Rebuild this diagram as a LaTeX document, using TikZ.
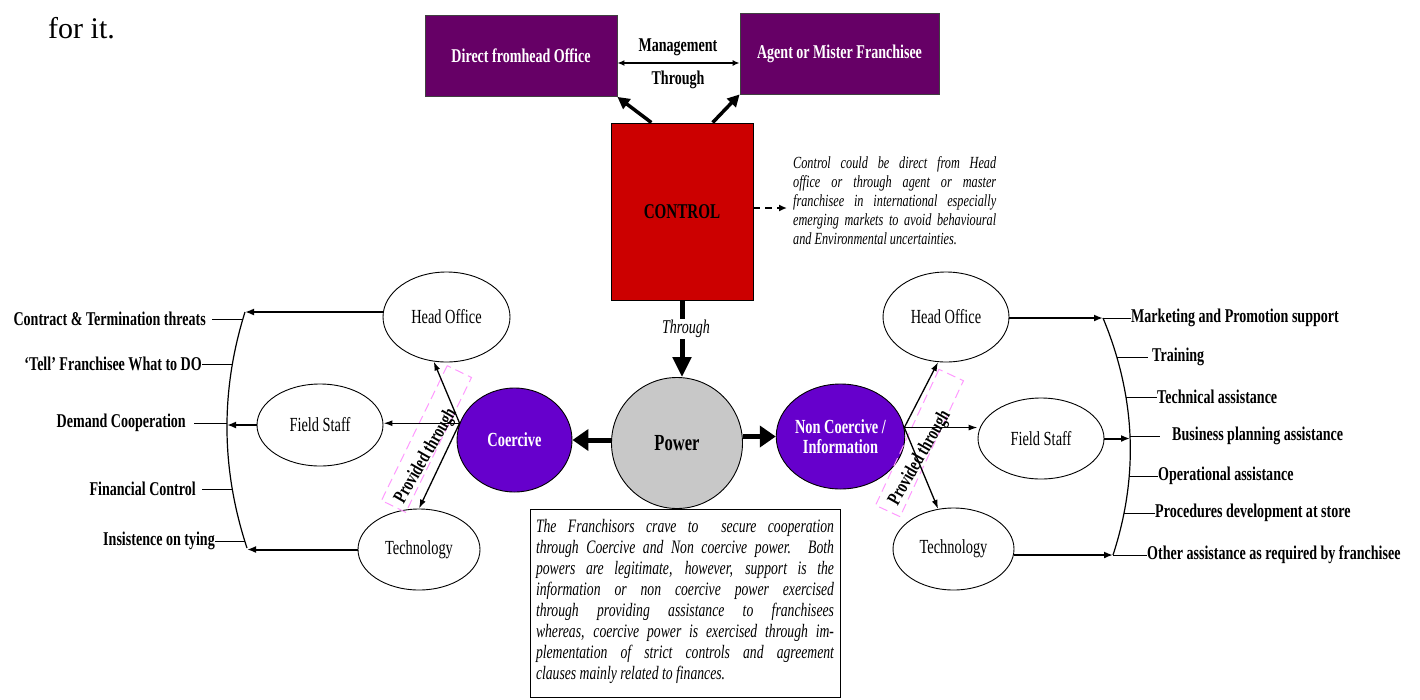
\documentclass[tikz,border=0pt]{standalone}
\usepackage{fontspec}
\setmainfont{Liberation Serif}
\newfontfamily\cond[FakeStretch=0.72]{Liberation Serif}
\usetikzlibrary{arrows.meta,shapes.geometric,calc}

\definecolor{plum}{HTML}{660066}
\definecolor{ctrlred}{HTML}{CC0000}
\definecolor{powgray}{HTML}{C8C8C8}
\definecolor{violetfill}{HTML}{6600CC}
\definecolor{pinkdash}{HTML}{FF99FF}

\begin{document}
\begin{tikzpicture}[x=1pt,y=-1pt,
  topbox/.style={draw=black!75, fill=plum, text=white, inner sep=0, line width=0.8pt,
    font=\cond\bfseries\fontsize{19.5}{22}\selectfont},
  oval/.style={ellipse, draw, line width=0.9pt, inner sep=0,
    font=\cond\fontsize{20}{22}\selectfont},
  powoval/.style={ellipse, draw, fill=violetfill, text=white, align=center, inner sep=0,
    line width=0.9pt, font=\cond\bfseries\fontsize{20}{20}\selectfont},
  lbl/.style={inner sep=0, font=\cond\bfseries\fontsize{19.5}{22}\selectfont},
  slim/.style={line width=1.3pt, -{Latex[length=9pt,width=6pt]}},
  flat/.style={line width=2pt, -{Latex[length=9pt,width=7pt]}},
  tick/.style={line width=1pt},
  fat/.style={line width=5pt, -{Triangle[length=16pt,width=21pt]}},
  upar/.style={line width=3.5pt, -{Triangle[length=12pt,width=12pt]}},
  provbox/.style={draw=pinkdash, dashed, dash pattern=on 9pt off 5pt, line width=1pt,
    minimum width=150pt, minimum height=27pt, inner sep=0},
  provtxt/.style={inner sep=0, font=\cond\bfseries\fontsize{19.5}{22}\selectfont}
]
\useasboundingbox (0,0) rectangle (1420,699);

% running text above the chart
\node[anchor=base west, inner sep=0, font=\fontsize{30}{34}\selectfont] (forit) at (48,38) {for it.};

% ---- control block ----
\node[topbox, minimum width=192pt, minimum height=81pt] (dho) at (521,56) {Direct fromhead Office};
\node[topbox, minimum width=199pt, minimum height=81pt] (ago) at (839.5,53.5) {Agent or Mister Franchisee};
\coordinate (mgmt) at (678,63);
\draw[line width=1.5pt, {Latex[length=7pt,width=6pt]}-{Latex[length=7pt,width=6pt]}]
  (dho.east |- mgmt) -- (ago.west |- mgmt);
\node[lbl] (mgtxt) at (678,47) {Management};
\node[lbl] (thtxt) at (678,80) {Through};

\node[draw, line width=0.9pt, fill=ctrlred, minimum width=142pt, minimum height=177pt, inner sep=0,
  font=\cond\bfseries\fontsize{21}{24}\selectfont] (ctl) at (682,211.5) {CONTROL};
\draw[upar] (ctl.109) -- (dho.south east);
\draw[upar] (ctl.71) -- (ago.south west);

\coordinate (cn) at (787,208);
\draw[line width=2pt, dash pattern=on 7pt off 5pt, -{Latex[length=8pt,width=7pt]}] (ctl.east |- cn) -- (cn);
\node[anchor=north west, inner sep=0, text width=203pt, align=justify,
  font=\cond\itshape\fontsize{17}{19}\selectfont] (cnote) at (793,156)
  {Control could be direct from Head\linebreak
   office or through agent or master\linebreak
   franchisee in international especially\linebreak
   emerging markets to avoid behavioural\linebreak
   and Environmental uncertainties.};

% ---- power ----
\node[circle, draw, line width=0.9pt, fill=powgray, minimum size=131pt, inner sep=0,
  font=\cond\bfseries\fontsize{23}{26}\selectfont] (pow) at (677,443) {Power};
\draw[line width=5pt, -{Triangle[length=20pt,width=18pt]}] (ctl.south) -- (ctl.south |- pow.north);
\node[inner sep=1pt, fill=white, font=\cond\itshape\fontsize{19.5}{22}\selectfont] (thr) at (686,329) {Through};

\node[powoval, minimum width=115pt, minimum height=104pt] (coe) at (514.5,440) {Coercive};
\node[powoval, minimum width=115pt, minimum height=105pt] (nco) at (840.5,436.5) {Non Coercive /\\Information};
\draw[fat] (coe.east -| pow.west) -- (coe.east);
\draw[fat] (nco.west -| pow.east) -- (nco.west);

% ---- coercive side ----
\node[oval, minimum width=127pt, minimum height=90pt] (hol) at (446.5,317) {Head Office};
\node[oval, minimum width=126pt, minimum height=82pt] (fsl) at (320,425) {Field Staff};
\node[oval, minimum width=122pt, minimum height=81pt] (tel) at (419,549.5) {Technology};

\node[provbox, rotate=64] (pbl) at (426.5,439) {};
\node[provtxt, rotate=60] (ptl) at (426,456) {Provided through};

\coordinate (cl) at (coe.163);
\draw[slim] (cl) -- (hol.254);
\draw[slim] (cl) -- (cl -| fsl.east);
\draw[slim] (cl) -- (tel.north);

% bracket of coercive measures
\draw[line width=1.2pt] (245,312) .. controls (220.3,390.7) and (221,469.3) .. (247,548);
\coordinate (lb0) at (245,312);
\coordinate (lb1) at (243,319);
\coordinate (lb2) at (232,364);
\coordinate (lb3) at (227,423);
\coordinate (lb4) at (232,489);
\coordinate (lb5) at (245,541);
\coordinate (lb6) at (247,548);
\draw[flat] (lb0 -| hol.west) -- (lb0);
\draw[flat] (fsl.west) -- (lb3 |- fsl.west);
\draw[flat] (tel.west) -- (lb6 |- tel.west);

\node[lbl, anchor=east] (c1) at (206,319) {Contract \& Termination threats};
\node[lbl, anchor=east] (c2) at (202,364) {‘Tell’ Franchisee What to DO};
\node[lbl, anchor=east] (c3) at (186,423) {Demand Cooperation};
\node[lbl, anchor=east] (c4) at (196,489) {Financial Control};
\node[lbl, anchor=east] (c5) at (215,541) {Insistence on tying};
\draw[tick] ([xshift=6pt]c1.east) -- (lb1);
\draw[tick] (c2.east) -- (lb2);
\draw[tick] ([xshift=8pt]c3.east) -- (lb3);
\draw[tick] ([xshift=6pt]c4.east) -- (lb4);
\draw[tick] (c5.east) -- (lb5);

% ---- non coercive side ----
\node[oval, minimum width=126pt, minimum height=90pt] (hor) at (946,317) {Head Office};
\node[oval, minimum width=126pt, minimum height=81pt] (fsr) at (1041,438.5) {Field Staff};
\node[oval, minimum width=121pt, minimum height=82pt] (ter) at (953.5,549) {Technology};

\node[provbox, rotate=65] (pbr) at (919.5,443) {};
\node[provtxt, rotate=60] (ptr) at (920,458) {Provided through};

\coordinate (cr) at (nco.8);
\draw[slim] (cr) -- (hor.260);
\draw[slim] (cr) -- (cr -| fsr.west);
\draw[slim] (cr) -- (ter.111);

% bracket of support measures
\draw[line width=1.2pt] (1103,318) .. controls (1135.7,396.7) and (1139,475.7) .. (1113,555);
\coordinate (rb1) at (1103,318);
\coordinate (rb2) at (1117,357);
\coordinate (rb3) at (1126,397);
\coordinate (rb4) at (1130,436);
\coordinate (rb5) at (1129,476);
\coordinate (rb6) at (1124,513);
\coordinate (rb7) at (1113,555);
\draw[flat] (rb1 -| hor.east) -- (rb1);
\draw[flat] (fsr.east) -- (rb4 |- fsr.east);
\draw[flat] (rb7 -| ter.east) -- (rb7);

\node[lbl, anchor=west] (s1) at (1131,318) {Marketing and Promotion support};
\node[lbl, anchor=west] (s2) at (1152,357) {Training};
\node[lbl, anchor=west] (s3) at (1157,397) {Technical assistance};
\node[lbl, anchor=west] (s4) at (1172,436) {Business planning assistance};
\node[lbl, anchor=west] (s5) at (1158,476) {Operational assistance};
\node[lbl, anchor=west] (s6) at (1155,513) {Procedures development at store};
\node[lbl, anchor=west] (s7) at (1147,555) {Other assistance as required by franchisee};
\draw[tick] (rb1) -- (s1.west);
\draw[tick] (rb2) -- ([xshift=-4pt]s2.west);
\draw[tick] (rb3) -- (s3.west);
\draw[tick] (rb4) -- ([xshift=-12pt]s4.west);
\draw[tick] (rb5) -- (s5.west);
\draw[tick] (rb6) -- (s6.west);
\draw[tick] (rb7) -- (s7.west);

% ---- explanatory note ----
\node[draw, line width=0.8pt, minimum width=310pt, minimum height=188pt, inner sep=0] (note) at (685,603) {};
\node[anchor=north, inner sep=0, text width=298pt, align=justify,
  font=\cond\itshape\fontsize{19}{21}\selectfont] (notetxt) at ([yshift=-11pt]note.north)
  {The Franchisors crave to\ \ secure cooperation\linebreak
   through Coercive and Non coercive power. Both\linebreak
   powers are legitimate, however, support is the\linebreak
   information or non coercive power exercised\linebreak
   through providing assistance to franchisees\linebreak
   whereas, coercive power is exercised through im-\linebreak
   plementation of strict controls and agreement\linebreak
   clauses mainly related to finances.};
\end{tikzpicture}
\end{document}
